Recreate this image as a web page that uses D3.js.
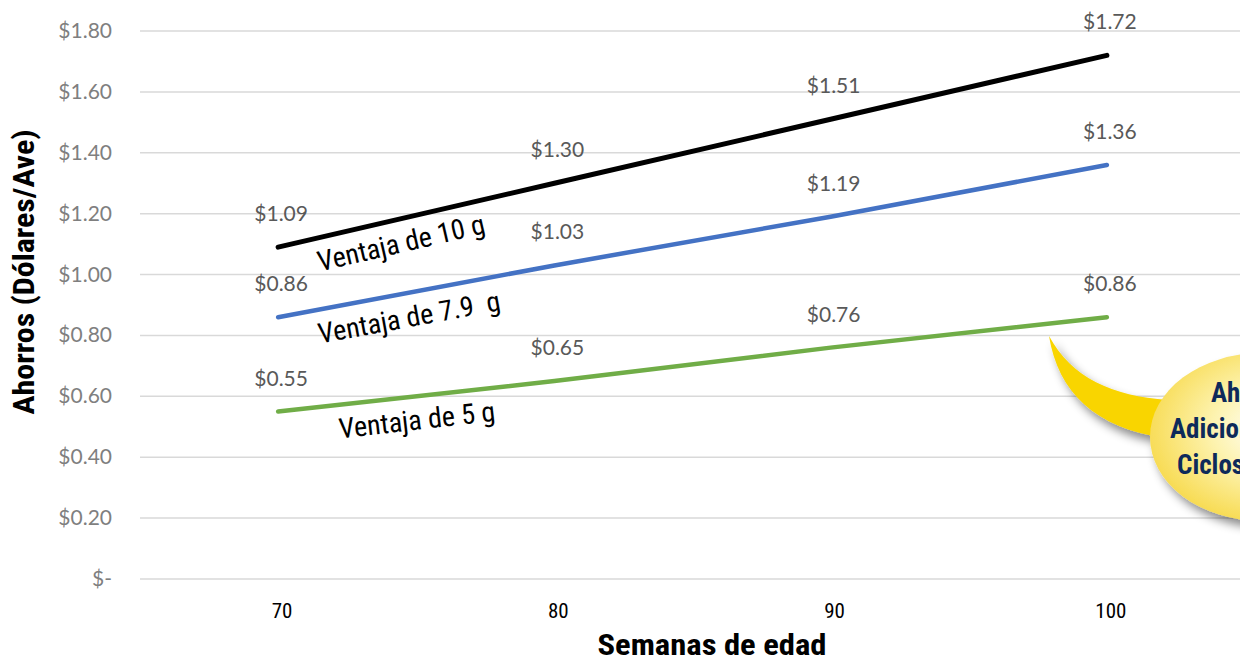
<!DOCTYPE html>
<html>
<head>
<meta charset="utf-8">
<script src="https://cdn.jsdelivr.net/npm/d3@7"></script>
<style>
  body { margin: 0; background: #fff; }
  .narrow { font-family: "Roboto Condensed", "Liberation Sans Narrow", "Arial Narrow", sans-serif; font-stretch: condensed; }
  .tick-y { font-family: "Lato", "Open Sans", sans-serif; fill: #7f7f7f; font-size: 21px; }
  .dlabel { font-family: "Lato", "Open Sans", sans-serif; fill: #595959; font-size: 21px; }
</style>
</head>
<body>
<svg width="1240" height="657"></svg>
<script>
// semanas de edad
const weeks = ["70", "80", "90", "100"];
// ahorros por ave, una serie por ventaja de huevo
const series10 = [1.09, 1.30, 1.51, 1.72];
const series79 = [0.86, 1.03, 1.19, 1.36];
const series5 = [0.55, 0.65, 0.76, 0.86];
const seriesNames = ["Ventaja de 10 g", "Ventaja de 7.9  g", "Ventaja de 5 g"];
const seriesColors = ["#000000", "#4472c4", "#70ad47"];
const yTicks = [0, 0.2, 0.4, 0.6, 0.8, 1.0, 1.2, 1.4, 1.6, 1.8];
const calloutLines = ["Ahorros", "Adicionales", "Ciclos"];

let svg = d3.select("svg");

let x = d3.scalePoint().domain(weeks).range([140, 1245]).padding(0.5);
let y = d3.scaleLinear().domain([0, 1.8]).range([579, 31]);

// grid
svg.append("g").selectAll("line")
    .data(yTicks).enter().append("line")
    .attr("x1", 140).attr("x2", 1240)
    .attr("y1", d => y(d)).attr("y2", d => y(d))
    .attr("stroke", "#d9d9d9").attr("stroke-width", 1.5);

// y tick labels
svg.append("g").selectAll("text")
    .data(yTicks).enter().append("text")
    .attr("class", "tick-y")
    .attr("x", 112)
    .attr("y", d => y(d) + 7)
    .attr("text-anchor", "end")
    .text(d => d === 0 ? "$-" : "$" + d.toFixed(2));

// x tick labels
svg.append("g").selectAll("text")
    .data(weeks).enter().append("text")
    .attr("class", "narrow")
    .attr("x", d => x(d) + 4)
    .attr("y", 618)
    .attr("text-anchor", "middle")
    .attr("font-size", 21)
    .text(d => d);

// axis titles
svg.append("text")
    .attr("class", "narrow")
    .attr("transform", "translate(34,272) rotate(-90)")
    .attr("text-anchor", "middle")
    .attr("font-size", 29).attr("font-weight", "bold")
    .attr("textLength", 285).attr("lengthAdjust", "spacingAndGlyphs")
    .text("Ahorros (Dólares/Ave)");
svg.append("text")
    .attr("class", "narrow")
    .attr("x", 712).attr("y", 655)
    .attr("text-anchor", "middle")
    .attr("font-size", 30).attr("font-weight", "bold")
    .attr("textLength", 229).attr("lengthAdjust", "spacingAndGlyphs")
    .text("Semanas de edad");

// callout
let defs = svg.append("defs");
let grad = defs.append("radialGradient").attr("id", "bubble")
    .attr("cx", "55%").attr("cy", "45%").attr("r", "60%");
grad.append("stop").attr("offset", "0%").attr("stop-color", "#ffffff");
grad.append("stop").attr("offset", "45%").attr("stop-color", "#fdf3b0");
grad.append("stop").attr("offset", "100%").attr("stop-color", "#f7d94a");
let shadow = defs.append("filter").attr("id", "shadow")
    .attr("x", "-30%").attr("y", "-30%").attr("width", "160%").attr("height", "160%");
shadow.append("feDropShadow").attr("dx", 5).attr("dy", 7)
    .attr("stdDeviation", 5).attr("flood-color", "#000").attr("flood-opacity", 0.45);

let callout = svg.append("g").attr("filter", "url(#shadow)");
callout.append("path")
    .attr("d", "M1049,336 C1058,392 1095,428 1165,438 L1168,400 C1112,396 1072,378 1049,336 Z")
    .attr("fill", "#f9d500");
callout.append("ellipse")
    .attr("cx", 1262).attr("cy", 437).attr("rx", 112).attr("ry", 84)
    .attr("fill", "url(#bubble)");
svg.append("g").selectAll("text")
    .data(calloutLines).enter().append("text")
    .attr("class", "narrow")
    .attr("x", (d, i) => [1211, 1170, 1177][i])
    .attr("y", (d, i) => 402 + i * 36)
    .attr("font-size", 27).attr("font-weight", "bold")
    .attr("fill", "#0d2a5a")
    .text(d => d);

// lines
let allSeries = [series10, series79, series5];
let line = d3.line().x((d, i) => x(weeks[i])).y(d => y(d));

allSeries.forEach((s, k) => {
    svg.append("path")
        .datum(s)
        .attr("d", line)
        .attr("fill", "none")
        .attr("stroke", seriesColors[k])
        .attr("stroke-width", k === 0 ? 5 : 4.5)
        .attr("stroke-linecap", "round");

    svg.append("g").selectAll("text")
        .data(s).enter().append("text")
        .attr("class", "dlabel")
        .attr("x", (d, i) => x(weeks[i]) + 3)
        .attr("y", d => y(d) - 26)
        .attr("text-anchor", "middle")
        .text(d => "$" + d.toFixed(2));

    // rotated series name under each line
    let x0 = x(weeks[0]), x1 = x(weeks[3]);
    let angle = Math.atan2(y(s[3]) - y(s[0]), x1 - x0) * 180 / Math.PI;
    let tx = 320 + (k === 2 ? 20 : 0);
    let ty = y(s[0]) + (tx - x0) * (y(s[3]) - y(s[0])) / (x1 - x0) + 34;
    svg.append("text")
        .attr("class", "narrow")
        .attr("transform", `translate(${tx},${ty}) rotate(${angle})`)
        .attr("font-size", 28)
        .attr("fill", "#000")
        .style("white-space", "pre")
        .text(seriesNames[k]);
});
</script>
</body>
</html>
